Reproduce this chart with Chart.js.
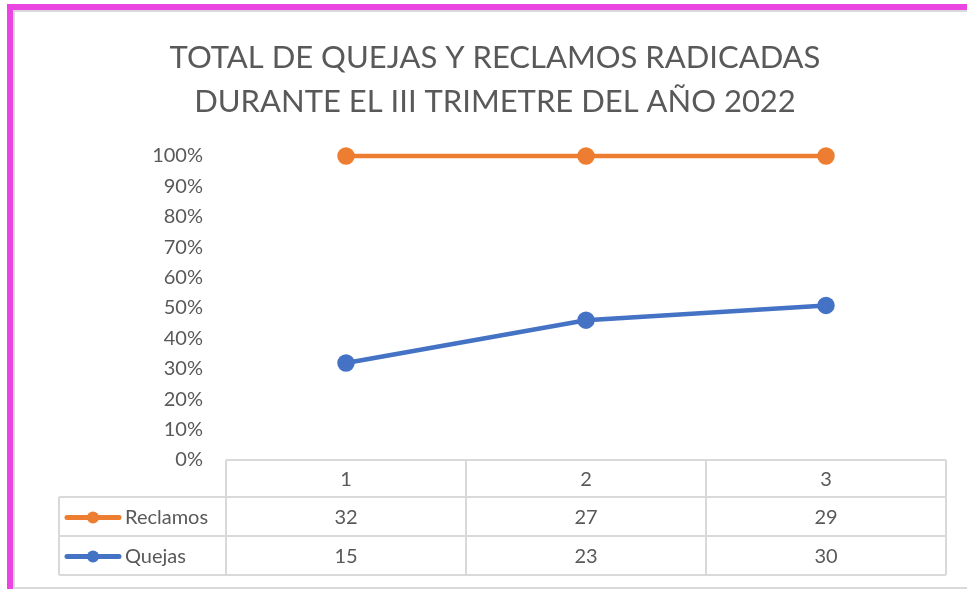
<!DOCTYPE html>
<html>
<head>
<meta charset="utf-8">
<script src="https://cdn.jsdelivr.net/npm/chart.js@4"></script>
<style>
  body { margin: 0; background: #fff; }
  #frame { position: absolute; left: 7px; top: 4px; width: 960px; height: 585px;
           border-top: 6px solid #ea44e2; border-left: 6px solid #ea44e2; box-sizing: border-box; }
  #inner { position: absolute; left: 13px; top: 10px; width: 954px; height: 579px;
           border-top: 2px solid #d9d9d9; border-left: 2px solid #d9d9d9; border-bottom: 2px solid #d9d9d9; box-sizing: border-box; }
  #wrap { position: absolute; left: 0; top: 0; width: 967px; height: 589px; }
</style>
</head>
<body>
<div id="frame"></div>
<div id="inner"></div>
<div id="wrap"><canvas id="chart" width="967" height="589"></canvas></div>
<script>
const categories = ["1", "2", "3"];
const reclamos = [32, 27, 29];
const quejas = [15, 23, 30];
const yTicks = [0, 10, 20, 30, 40, 50, 60, 70, 80, 90, 100];

const ORANGE = "#ed7d31";
const BLUE = "#4472c4";
const TEXT = "#595959";
const GRID = "#d9d9d9";
const FONT = "Lato, 'Open Sans', sans-serif";

// 100% stacked: each series as a share of the category total
const totals = categories.map((c, i) => reclamos[i] + quejas[i]);
const quejasPct = quejas.map((v, i) => (v / totals[i]) * 100);
const reclamosPct = reclamos.map((v, i) => (v / totals[i]) * 100);

// data table drawn under the plot, columns follow the x scale
const dataTable = {
  id: "dataTable",
  afterDraw(chart) {
    const ctx = chart.ctx;
    const x = chart.scales.x;
    const area = chart.chartArea;
    const step = x.getPixelForValue(1) - x.getPixelForValue(0);
    const left = x.getPixelForValue(0) - step / 2;
    const right = x.getPixelForValue(categories.length - 1) + step / 2;
    const legendLeft = 59;
    const rows = [area.bottom, area.bottom + 37, area.bottom + 76, area.bottom + 115];

    ctx.save();
    ctx.strokeStyle = GRID;
    ctx.lineWidth = 2;
    ctx.beginPath();
    // header row
    ctx.moveTo(left, rows[0]); ctx.lineTo(right, rows[0]);
    ctx.moveTo(legendLeft, rows[1]); ctx.lineTo(right, rows[1]);
    ctx.moveTo(legendLeft, rows[2]); ctx.lineTo(right, rows[2]);
    ctx.moveTo(legendLeft, rows[3]); ctx.lineTo(right, rows[3]);
    ctx.moveTo(legendLeft, rows[1]); ctx.lineTo(legendLeft, rows[3]);
    for (let i = 0; i <= categories.length; i++) {
      const cx = left + i * step;
      ctx.moveTo(cx, rows[0]); ctx.lineTo(cx, rows[3]);
    }
    ctx.stroke();

    ctx.fillStyle = TEXT;
    ctx.font = "20px " + FONT;
    ctx.textAlign = "center";
    ctx.textBaseline = "middle";
    const series = [
      { label: "Reclamos", values: reclamos, color: ORANGE },
      { label: "Quejas", values: quejas, color: BLUE },
    ];
    categories.forEach((c, i) => {
      ctx.fillText(c, x.getPixelForValue(i), (rows[0] + rows[1]) / 2 + 1);
    });
    series.forEach((s, r) => {
      const cy = (rows[r + 1] + rows[r + 2]) / 2 + 1;
      s.values.forEach((v, i) => {
        ctx.fillStyle = TEXT;
        ctx.fillText(String(v), x.getPixelForValue(i), cy);
      });
      // legend key
      ctx.strokeStyle = s.color;
      ctx.lineWidth = 5;
      ctx.lineCap = "round";
      ctx.beginPath();
      ctx.moveTo(67, cy); ctx.lineTo(119, cy);
      ctx.stroke();
      ctx.fillStyle = s.color;
      ctx.beginPath();
      ctx.arc(93, cy, 6, 0, Math.PI * 2);
      ctx.fill();
      ctx.fillStyle = TEXT;
      ctx.textAlign = "left";
      ctx.fillText(s.label, 125, cy);
      ctx.textAlign = "center";
    });
    ctx.restore();
  },
};

new Chart(document.getElementById("chart"), {
  type: "line",
  data: {
    labels: categories,
    datasets: [
      {
        label: "Quejas",
        data: quejasPct,
        borderColor: BLUE,
        backgroundColor: BLUE,
        borderWidth: 4.5,
        pointRadius: 6.5,
        pointHoverRadius: 6.5,
        tension: 0,
        clip: false,
      },
      {
        label: "Reclamos",
        data: reclamosPct,
        borderColor: ORANGE,
        backgroundColor: ORANGE,
        borderWidth: 4.5,
        pointRadius: 6.5,
        pointHoverRadius: 6.5,
        tension: 0,
        clip: false,
      },
    ],
  },
  options: {
    responsive: false,
    animation: false,
    layout: { padding: { left: 44, right: 21, top: 0, bottom: 129 } },
    plugins: {
      legend: { display: false },
      tooltip: { enabled: false },
      title: {
        display: true,
        text: ["TOTAL DE QUEJAS Y RECLAMOS RADICADAS", "DURANTE EL III TRIMETRE DEL AÑO 2022"],
        color: TEXT,
        font: { family: FONT, size: 31, weight: "normal", lineHeight: 44 / 31 },
        padding: { top: 36, bottom: 32 },
      },
    },
    scales: {
      x: { display: false, offset: true },
      y: {
        stacked: true,
        min: 0,
        max: 100,
        afterFit: (s) => { s.width = 182; },
        afterBuildTicks: (s) => { s.ticks = yTicks.map((v) => ({ value: v })); },
        grid: { display: false, drawTicks: false },
        border: { display: false },
        ticks: {
          padding: 23,
          color: TEXT,
          font: { family: FONT, size: 20 },
          callback: (v) => v + "%",
        },
      },
    },
  },
  plugins: [dataTable],
});
</script>
</body>
</html>
